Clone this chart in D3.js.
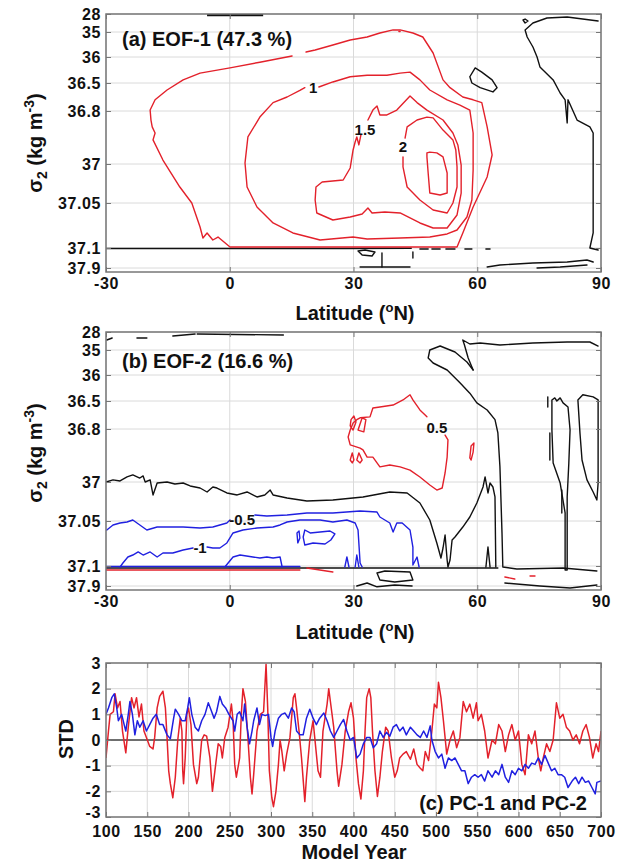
<!DOCTYPE html>
<html>
<head>
<meta charset="utf-8">
<script src="https://cdn.jsdelivr.net/npm/d3@7"></script>
<style>
  body { margin: 0; background: #fff; }
  text { font-family: "Liberation Sans", Arial, Helvetica, sans-serif; font-weight: bold; fill: #111; }
</style>
</head>
<body>
<svg id="chart"></svg>
<script>
// ---- data -------------------------------------------------------------
const latTicks = [-30, 0, 30, 60, 90]
const sigTicks = [28, 35, 36, 36.5, 36.8, 37, 37.05, 37.1, 37.9]
const sigBreaks = [28, 35, 36, 36.5, 36.8, 37, 37.05, 37.1, 37.9, 38]
const stdTicks = [3, 2, 1, 0, -1, -2, -3]
const yearTicks = [100, 150, 200, 250, 300, 350, 400, 450, 500, 550, 600, 650, 700]

// EOF-1 red contours [lat, sigma2]
const eof1_05 = [[18.5,35.8],[20.7,35.72],[25.0,35.52],[29.2,35.32],[33.3,35.2],[36.4,35.04],[39.6,34.2],[41.3,34.2],[44.4,35.04],[46.8,35.2],[49.3,35.84],[51.7,36.44],[53.4,36.55],[56.5,36.65],[59.0,36.68],[61.1,36.71],[62.4,36.86],[63.6,36.966],[62.4,37.0166],[59.0,37.0544],[56.5,37.0833],[55.1,37.0989],[0.5,37.0989],[0.06,37.0989],[-2.85,37.0878],[-4.1,37.0911],[-5.5,37.0833],[-6.5,37.0889],[-7.2,37.0767],[-9.2,37.05],[-12.1,37.0295],[-16.2,36.985],[-18.6,36.909],[-18.1,36.883],[-18.8,36.86],[-19.1,36.834],[-19.3,36.79],[-18.1,36.68],[-15.2,36.575],[-11.3,36.44],[-7.2,36.31],[0.06,36.21],[7.3,36.1],[15.1,35.96]]
const eof1_10 = [[21.6,36.543],[25.0,36.48],[29.2,36.38],[33.3,36.35],[38.1,36.35],[41.3,36.31],[43.7,36.29],[46.1,36.44],[48.5,36.575],[52.7,36.68],[55.8,36.736],[58.2,36.79],[59.0,36.883],[59.0,37.0077],[58.7,37.0462],[57.5,37.0656],[55.1,37.08],[52.7,37.0844],[48.5,37.0878],[41.3,37.0889],[33.3,37.09],[29.9,37.0878],[21.9,37.0911],[15.3,37.0833],[10.5,37.0722],[6.6,37.0544],[4.2,37.0295],[3.7,36.996],[4.4,36.898],[7.3,36.823],[10.5,36.71],[13.9,36.65],[17.0,36.58],[18.2,36.55]]
const eof1_15 = [[33.5,36.834],[34.7,36.79],[35.7,36.747],[36.4,36.815],[38.1,36.815],[40.5,36.79],[43.7,36.64],[45.4,36.71],[47.8,36.79],[51.7,36.834],[54.1,36.883],[55.3,36.928],[56.1,37.0013],[56.1,37.0372],[55.1,37.0633],[52.7,37.0778],[49.3,37.0778],[46.1,37.0722],[41.3,37.0611],[37.6,37.06],[34.5,37.0611],[33.5,37.0556],[32.1,37.0622],[29.2,37.0656],[25.0,37.0689],[21.1,37.0611],[20.7,37.0462],[20.9,37.0295],[22.4,37.0231],[27.5,37.0205],[29.2,37.0051],[29.9,36.947],[30.4,36.917],[30.8,36.898],[31.3,36.928],[31.8,36.89]]
const eof1_20 = [[42.5,36.902],[43.0,36.86],[45.4,36.834],[47.8,36.823],[49.3,36.826],[51.7,36.872],[54.1,36.909],[54.8,36.947],[55.1,37.0038],[55.1,37.0295],[54.1,37.05],[52.7,37.0611],[49.3,37.0578],[46.1,37.0462],[43.0,37.0295],[42.0,37.0038],[42.0,36.973]]
const eof1_25 = [[47.8,36.958],[48.5,36.955],[50.2,36.958],[51.7,36.973],[52.7,37.0115],[52.7,37.0372],[51.0,37.0397],[48.5,37.0372],[48.1,37.0115],[47.8,36.973],[47.8,36.958]]
const eof1Dots = [[[41.0,34.8],[41.3,34.8]]]
const eof1Labels = [[20.2,36.55,'1'],[32.8,36.872,'1.5'],[42.0,36.936,'2']]

// EOF-1 zero contours (black)
const eof1Zero = [
  [[89.3,30.72],[81.8,29.17],[76.9,29.56],[73.5,31.5],[71.6,34.2],[72.1,35.2],[73.5,35.6],[74.5,36.0],[75.2,36.19],[78.4,36.44],[80.1,36.607],[81.3,36.68],[81.8,36.845],[82.0,36.68],[84.2,36.834],[87.3,36.86],[88.1,36.883],[88.1,37.0462],[88.1,37.0833],[87.3,37.1],[89.3,37.18]],
  [[58.2,36.38],[59.5,36.21],[61.1,36.29],[63.6,36.44],[64.8,36.55],[63.8,36.596],[60.7,36.55],[58.7,36.5],[58.2,36.38]],
  [[71.1,30.33],[71.6,29.95],[72.3,30.72],[71.6,31.5],[71.1,30.33]],
  [[-30,37.12],[28,37.12],[44,37.11]],
  [[46.1,37.14],[48.1,37.14]],[[49.0,37.14],[51.0,37.14]],[[52.4,37.14],[54.6,37.14]],[[57.0,37.14],[58.7,37.14]],[[62.1,37.14],[63.1,37.14]],
  [[31.1,37.22],[32.8,37.18],[35.2,37.26],[34.5,37.42],[32.1,37.38],[31.1,37.22]],
  [[31.6,37.86],[43.7,37.86]],[[36.9,37.30],[36.9,37.86]],[[44.4,37.26],[44.4,37.5]],
  [[62.4,37.86],[65.5,37.78],[73.5,37.7],[81.8,37.66],[86.6,37.58],[88.1,37.66]],
  [[74.5,37.9],[80.1,37.86],[86.6,37.78]]
]
const eof1Top = [[-5.5,28.39],[8.1,28.39]]

// EOF-2 contours
const eof2_05 = [[47.8,36.67],[46.1,36.596],[44.4,36.48],[43.7,36.38],[42.0,36.48],[39.6,36.543],[36.4,36.564],[34.7,36.575],[34.0,36.67],[31.6,36.68],[30.8,36.70],[29.9,36.736],[29.2,36.804],[28.7,36.83],[29.2,36.86],[31.6,36.872],[32.3,36.879],[33.3,36.906],[34.7,36.906],[35.7,36.928],[36.4,36.943],[38.8,36.936],[41.3,36.943],[43.7,36.955],[46.1,36.981],[48.5,37.0038],[50.2,37.0103],[51.5,37.0077],[52.2,36.966],[52.7,36.906],[52.9,36.841],[52.2,36.823]]
const eof2Pos = [
  [[29.4,36.70],[30.1,36.66],[30.6,36.725],[29.9,36.804],[29.2,36.767],[29.4,36.70]],
  [[31.1,36.804],[32.1,36.68],[33.0,36.70],[32.5,36.811],[31.1,36.804]],
  [[29.2,36.917],[29.7,36.89],[30.1,36.917],[29.7,36.928],[29.2,36.917]],
  [[30.8,36.917],[31.3,36.89],[32.1,36.917],[31.6,36.928],[30.8,36.917]],
  [[58.2,36.909],[58.5,36.864],[59.2,36.853],[59.0,36.887],[58.5,36.917],[58.2,36.909]],
  [[-30,37.26],[17,37.26]],
  [[18.7,37.18],[25.0,37.34]],
  [[66.7,37.54],[69.1,37.62]],[[72.8,37.5],[74.0,37.5]]
]
const eof2_m05 = [
  [[-29.8,37.06],[-28.3,37.0544],[-26.6,37.0522],[-24.9,37.0511],[-23.5,37.0487],[-21.8,37.0544],[-20.1,37.06],[-17.6,37.0567],[-15.2,37.0567],[-11.3,37.0567],[-7.2,37.0578],[-4.1,37.0567],[-0.7,37.0522],[0.06,37.0487]],
  [[6.1,37.0423],[9.0,37.0436],[13.9,37.0423],[18.7,37.0397],[25.0,37.0397],[31.6,37.0372],[35.7,37.0385],[36.4,37.0449],[38.8,37.0522],[39.6,37.0622],[40.5,37.0522],[41.8,37.0522],[43.7,37.06],[44.4,37.0789],[44.4,37.0989],[45.4,37.09],[45.9,37.14]]
]
const eof2_m10 = [
  [[-26.6,37.14],[-25.9,37.0967],[-24.7,37.09],[-23.5,37.0878],[-22.2,37.0844],[-21.0,37.0878],[-19.3,37.0844],[-17.6,37.09],[-16.2,37.0856],[-13.8,37.0856],[-11.3,37.0822],[-8.9,37.08]],
  [[-5.5,37.0789],[-4.1,37.08],[-2.4,37.08],[-0.7,37.0744],[0.8,37.0633],[3.2,37.06],[6.6,37.0578],[10.5,37.0567],[12.2,37.0544],[13.9,37.0511],[17.0,37.0487],[21.9,37.0487],[25.0,37.0511],[28.4,37.0487],[30.4,37.0522],[31.1,37.06],[31.6,37.0967],[32.1,37.14]],
  [[17.8,37.0678],[18.2,37.06],[19.5,37.0633],[24.3,37.0611],[25.5,37.0644],[24.5,37.0711],[23.1,37.0756],[20.2,37.0744],[18.2,37.0767],[17.8,37.0678]],
  [[16.3,37.0633],[16.8,37.0611],[17.0,37.0689],[16.5,37.0744],[16.3,37.0633]],
  [[-1.2,37.14],[0.8,37.09],[2.5,37.0878],[5.6,37.09],[7.3,37.0911],[9.0,37.09],[10.5,37.0911],[12.2,37.09],[12.7,37.14]],
  [[27.9,37.14],[28.4,37.09],[28.9,37.14]],[[30.4,37.14],[30.8,37.0878],[31.3,37.14]],
  [[-30,37.12],[17,37.12]]
]
const eof2Labels = [[50.2,36.78,'0.5'],[3.0,37.0487,'-0.5'],[-7.2,37.08,'-1']]
const eof2Zero = [
  [[-30,37.0],[-28.3,36.992],[-26.6,36.996],[-24.9,36.981],[-23.5,36.973],[-21.8,36.985],[-21.0,36.977],[-20.5,37.0],[-19.3,36.992],[-18.6,37.0166],[-17.6,37.0013],[-15.2,37.0],[-13.3,37.0026],[-11.3,37.0013],[-9.6,37.0051],[-7.2,37.0077],[-5.5,37.0128],[-4.1,37.0064],[-3.1,37.0077],[-0.7,37.0141],[1.8,37.0166],[4.2,37.0128],[6.6,37.0192],[8.5,37.0166],[9.8,37.0103],[10.5,37.0166],[13.9,37.0205],[18.7,37.0244],[25.0,37.0231],[32.3,37.0192],[38.8,37.0128],[43.0,37.0141],[46.1,37.0269],[48.5,37.0487],[50.2,37.0744],[51.2,37.0911],[51.7,37.08],[52.2,37.0656],[52.7,37.0933],[52.9,37.14],[53.4,37.0933],[53.9,37.0711],[54.6,37.0678],[56.5,37.0567],[58.2,37.0449],[59.9,37.0269],[61.4,37.0064],[61.9,36.981],[62.6,37.0141],[63.1,37.0013],[63.8,37.0064],[64.3,37.0192],[64.5,37.14]],
  [[62.1,37.14],[62.6,37.0789],[63.1,37.14]],
  [[59.0,35.8],[57.5,35.48],[54.6,35.08],[51.0,33.45],[48.5,35.0],[48.1,35.32],[49.3,35.52],[52.7,35.8],[55.8,36.15],[58.2,36.35],[59.9,36.52],[62.4,36.596],[64.3,36.70],[65.0,36.815],[65.5,36.943],[66.0,37.0633],[66.2,37.14],[69.6,37.22],[80.8,37.18],[89.0,37.30]],
  [[59.0,35.8],[57.8,35.32],[56.9,33.06],[56.5,31.11],[58.2,32.67],[60.7,32.28],[65.5,33.06],[73.5,32.28],[81.8,31.89],[87.3,31.89],[89.3,33.45]],
  [[78.1,36.48],[78.8,36.44],[79.3,36.5],[80.1,36.44],[80.8,36.52],[82.0,36.564],[82.5,36.804],[82.2,36.928],[81.8,37.0192],[81.8,37.26],[81.3,37.26],[81.3,37.0397],[80.1,37.0013],[78.4,36.928],[78.1,36.804],[78.1,36.48]],
  [[84.4,36.48],[85.6,36.38],[88.1,36.42],[89.3,36.48],[89.3,37.0013],[89.0,37.0231],[88.1,37.0128],[86.6,36.992],[85.4,36.917],[84.9,36.815],[84.4,36.48]],
  [[77.1,36.42],[77.1,36.564]],[[77.6,36.815],[77.6,36.917]],[[80.5,37.0103],[80.5,37.0397]],
  [[-30,37.18],[65,37.18]],
  [[35.7,37.38],[37.6,37.30],[43.7,37.34],[44.4,37.66],[40.0,37.74],[36.4,37.66],[35.7,37.38]],
  [[30.8,37.9],[33.3,37.78],[35.7,37.92],[40.0,37.86],[44.2,37.9]],
  [[66.7,37.78],[75.2,37.9],[82.5,37.95],[89.0,37.86]],
  [[-29.8,31.11],[-28.5,30.33]],[[-22.5,30.33],[-20.1,30.33]],[[-13.8,29.56],[-8.4,28.78]],[[-7.9,28.78],[13.0,29.17]]
]

// PCs
const pc1Year = [100,103,105,109,111,114,117,120,124,127,131,134,137,140,143,146,149,153,157,159,162,165,169,172,174,176,178,181,184,187,190,192,193,194,196,198,200,203,206,210,212,216,219,222,226,229,232,236,239,241,244,248,252,254,256,258,262,264,266,269,272,275,277,279,283,287,291,294,296,298,301,303,306,309,311,313,316,319,323,327,329,331,334,337,341,343,347,351,353,357,360,363,368,370,372,376,380,382,386,390,394,397,400,403,406,409,412,414,416,419,421,423,426,429,432,435,439,442,446,450,453,456,460,464,469,473,477,481,484,487,491,495,498,501,503,506,509,513,517,521,525,529,533,537,541,545,549,551,555,559,563,568,572,576,580,584,588,592,596,600,604,608,612,616,620,624,627,630,634,638,642,646,650,654,658,662,666,670,674,678,682,686,690,694,697,700]
const pc1 = [-0.7,0.35,1.0,1.1,1.8,1.25,1.5,0.35,-0.5,0.5,1.65,1.25,1.65,0.9,1.4,0.35,0.1,-0.25,-0.35,0.1,1.25,1.7,1.9,1.25,0.1,-1.2,-1.7,-2.25,-1.45,0,0.85,0.35,-1.2,-1.7,-0.7,1.0,1.25,0.6,-0.95,-1.7,-1.45,0,0.2,0.15,-0.7,-2.0,-1.2,-0.15,-0.25,-0.7,0.1,0.5,1.4,0.75,-0.95,-1.45,-0.7,1.0,2.0,1.5,0.1,-1.45,-2.1,-1.35,0.35,1.0,1.1,2.95,1.25,-1.2,-2.25,-2.6,-2.0,-0.95,0,-0.4,-1.2,-0.55,0.1,1.65,1.8,1.25,0.35,-0.7,-2.4,-1.45,0,0.75,0.1,-1.2,-1.45,0.35,1.4,2.0,1.5,0.5,-1.2,-1.8,-0.95,0.35,1.1,1.45,0.85,-0.7,-1.7,-2.3,-1.2,0.35,1.65,2.0,1.65,0.35,-1.2,-2.2,-1.45,-0.45,0.5,0.35,-0.7,-1.45,-1.2,-0.7,-0.55,-0.45,-0.75,-0.35,-0.95,-1.1,-1.2,-0.45,-0.8,0.35,1.4,1.25,2.25,1.65,0.75,-0.55,0,0.35,-0.3,0.1,1.5,1.1,1.4,0.85,1.45,0.75,1.0,0.35,-0.7,0,-0.15,0.6,0.35,-0.45,0.2,0.6,0,0.35,-0.95,-1.35,0.2,-0.15,0.35,-0.7,-1.2,-0.7,-0.15,-0.45,0,1.45,0.85,1.0,0.5,0.35,0,0.2,-0.15,0.35,0.6,0.1,-0.7,-0.15,-0.45,0.35]
const pc2Year = [100,103,107,110,113,115,119,122,124,127,129,132,135,138,141,145,149,153,157,161,165,169,174,178,182,184,188,192,196,199,201,204,208,212,216,220,224,227,231,234,238,241,245,249,254,256,259,262,266,268,271,274,277,279,283,286,289,293,297,300,302,305,309,313,317,321,325,328,331,335,339,343,347,351,355,359,364,368,372,376,380,384,388,392,396,400,404,408,412,416,420,424,428,432,436,440,444,448,452,456,460,464,469,473,477,481,485,489,493,495,499,503,507,511,515,519,523,527,531,535,539,543,547,551,555,559,563,568,572,576,580,584,588,592,596,600,604,608,612,616,620,624,628,632,636,640,644,648,652,656,660,665,669,673,677,681,685,689,693,695,700]
const pc2 = [1.0,1.25,1.65,1.8,1.25,0.75,1.0,0.6,0.35,1.0,1.5,1.0,0.2,0.75,0.5,0.75,0.35,0.6,0.85,1.0,0.6,0.6,0.2,0.05,0.85,1.2,1.0,0.75,0.75,1.25,1.65,1.0,0.5,0.35,0.75,1.0,1.45,1.2,0.85,1.1,1.7,1.4,1.25,1.0,0.75,0.35,1.0,1.1,0.75,1.4,0.5,-0.15,0.35,0.75,1.25,0.6,1.0,0.95,1.0,0.1,-0.25,0.35,0.85,1.0,1.05,0.85,1.25,1.1,0.35,0.2,0.2,0.85,1.2,0.85,0.6,0.85,1.05,0.75,0.35,0.1,0.35,0.6,0.8,0.35,0,0.1,-0.7,-0.55,-0.15,0.1,0.1,-0.3,-0.15,0.35,0.1,0.3,0.15,0.5,0.6,0.35,0.5,0.2,0.5,0.35,0.2,0.1,0.35,0.1,0.55,0,-0.45,-0.7,-0.55,-1.1,-0.7,-0.8,-0.7,-0.95,-1.2,-1.2,-1.7,-1.45,-1.35,-1.45,-1.35,-1.6,-1.2,-1.45,-1.2,-1.35,-0.95,-1.45,-1.65,-1.2,-1.35,-1.1,-1.2,-0.95,-1.1,-0.9,-0.95,-0.7,-0.95,-0.6,-0.9,-1.2,-1.1,-1.35,-1.35,-1.45,-1.85,-1.6,-1.45,-1.7,-1.45,-1.65,-1.6,-1.85,-2.1,-1.65,-1.6]

// ---- layout -----------------------------------------------------------
const width = 626, height = 863
const left = 106, right = 601
const panelA = {top: 14, bottom: 272}
const panelB = {top: 332, bottom: 590}
const panelC = {top: 663, bottom: 817}
const sigFrac = [0, 18, 43, 69, 97, 150, 189, 234, 254, 258].map(v => v / 258)
const red = '#e3212b', blue = '#2020e0', ink = '#111'

const svg = d3.select('#chart').attr('width', width).attr('height', height)
svg.append('rect').attr('width', width).attr('height', height).attr('fill', '#fff')

const xLat = d3.scaleLinear().domain([-30, 90]).range([left, right])

const frame = (g, x, y, xt, yt, id, top, bottom) => {
  g.append('clipPath').attr('id', id).append('rect')
    .attr('x', left).attr('y', top).attr('width', right - left).attr('height', bottom - top)
  const grid = g.append('g').attr('stroke', '#dadada').attr('stroke-width', 1)
  grid.selectAll('.gx').data(xt).enter().append('line')
    .attr('x1', d => x(d)).attr('x2', d => x(d)).attr('y1', top).attr('y2', bottom)
  grid.selectAll('.gy').data(yt).enter().append('line')
    .attr('x1', left).attr('x2', right).attr('y1', d => y(d)).attr('y2', d => y(d))
  return g.append('g').attr('clip-path', `url(#${id})`)
}

const axes = (g, x, y, xt, yt, top, bottom, xpad) => {
  const style = a => {
    a.select('.domain').remove()
    a.selectAll('line').attr('stroke', '#777')
    a.selectAll('text').style('font-size', '16px').style('letter-spacing', '0.6px').attr('fill', ink)
  }
  const yAxis = g.append('g').attr('transform', `translate(${left},0)`)
    .call(d3.axisLeft(y).tickValues(yt).tickSizeInner(-5).tickSizeOuter(0).tickPadding(5).tickFormat(d => String(d)))
    .call(style)
  g.append('g').attr('transform', `translate(${right},0)`)
    .call(d3.axisRight(y).tickValues(yt).tickSizeInner(-5).tickSizeOuter(0).tickFormat(''))
    .call(style)
  g.append('g').attr('transform', `translate(0,${bottom})`)
    .call(d3.axisBottom(x).tickValues(xt).tickSizeInner(-5).tickSizeOuter(0).tickPadding(xpad).tickFormat(d => String(d)))
    .call(style)
  g.append('g').attr('transform', `translate(0,${top})`)
    .call(d3.axisTop(x).tickValues(xt).tickSizeInner(-5).tickSizeOuter(0).tickFormat(''))
    .call(style)
  g.append('rect').attr('x', left).attr('y', top).attr('width', right - left).attr('height', bottom - top)
    .attr('fill', 'none').attr('stroke', '#777').attr('stroke-width', 1.5)
  return yAxis
}

const sigmaLabel = (g, cy) => {
  const t = g.append('text').attr('transform', `translate(42,${cy}) rotate(-90)`)
    .attr('text-anchor', 'middle').style('font-size', '20px')
  t.append('tspan').text('σ')
  t.append('tspan').attr('dy', 5).style('font-size', '14px').text('2')
  t.append('tspan').attr('dy', -5).text(' (kg m')
  t.append('tspan').attr('dy', -8).style('font-size', '14px').text('-3')
  t.append('tspan').attr('dy', 8).text(')')
}

const latLabel = (g, yb) => {
  const t = g.append('text').attr('x', 355).attr('y', yb).attr('text-anchor', 'middle').style('font-size', '20px')
  t.append('tspan').text('Latitude (')
  t.append('tspan').attr('dy', -8).style('font-size', '13px').text('o')
  t.append('tspan').attr('dy', 8).text('N)')
}

const contourPanel = (p, id, title, titleY, reds, blues, blacks, labels, thick) => {
  const y = d3.scaleLinear().domain(sigBreaks).range(sigFrac.map(f => p.top + f * (p.bottom - p.top)))
  const line = d3.line().x(d => xLat(d[0])).y(d => y(d[1]))
  const g = svg.append('g')
  const body = frame(g, xLat, y, latTicks, sigTicks, id, p.top, p.bottom)
  const draw = (sets, color) => body.append('g').selectAll('path').data(sets).enter().append('path')
    .attr('d', line).attr('fill', 'none').attr('stroke', color).attr('stroke-width', 1.4)
    .attr('stroke-linejoin', 'round').attr('stroke-linecap', 'round')
  draw(blacks, ink)
  draw(reds, red)
  draw(blues, blue)
  if (thick) body.append('path').datum(thick).attr('d', line).attr('stroke', ink).attr('stroke-width', 2.5)
  g.selectAll('.clab').data(labels).enter().append('text')
    .attr('x', d => xLat(d[0])).attr('y', d => y(d[1])).attr('dy', '0.36em')
    .attr('text-anchor', 'middle').style('font-size', '15px').text(d => d[2])
  axes(g, xLat, y, latTicks, sigTicks, p.top, p.bottom, 6)
  g.append('text').attr('x', 122).attr('y', titleY).style('font-size', '20px').text(title)
}

contourPanel(panelA, 'clipA', '(a) EOF-1 (47.3 %)', 46,
  [eof1_05, eof1_10, eof1_15, eof1_20, eof1_25, ...eof1Dots], [], eof1Zero, eof1Labels, eof1Top)
sigmaLabel(svg, 143)
latLabel(svg, 320)

contourPanel(panelB, 'clipB', '(b) EOF-2 (16.6 %)', 368,
  [eof2_05, ...eof2Pos], [...eof2_m05, ...eof2_m10], eof2Zero, eof2Labels, null)
sigmaLabel(svg, 453)
latLabel(svg, 639)

// ---- panel c ----------------------------------------------------------
const xYear = d3.scaleLinear().domain([100, 700]).range([left, right])
const yStd = d3.scaleLinear().domain([-3, 3]).range([panelC.bottom, panelC.top])
const gc = svg.append('g')
const bodyC = frame(gc, xYear, yStd, yearTicks, stdTicks, 'clipC', panelC.top, panelC.bottom)
bodyC.append('line').attr('x1', left).attr('x2', right).attr('y1', yStd(0)).attr('y2', yStd(0))
  .attr('stroke', '#444').attr('stroke-width', 1.3)
const pcLine = d3.line().x(d => xYear(d[0])).y(d => yStd(d[1]))
bodyC.append('path').datum(d3.zip(pc1Year, pc1)).attr('d', pcLine)
  .attr('fill', 'none').attr('stroke', red).attr('stroke-width', 1.5).attr('stroke-linejoin', 'round')
bodyC.append('path').datum(d3.zip(pc2Year, pc2)).attr('d', pcLine)
  .attr('fill', 'none').attr('stroke', blue).attr('stroke-width', 1.5).attr('stroke-linejoin', 'round')
const stdAxis = axes(gc, xYear, yStd, yearTicks, stdTicks, panelC.top, panelC.bottom, 9)
// lift the lowest label a little so it clears the year labels below it
stdAxis.selectAll('.tick').filter(d => d === -3).select('text').attr('dy', '0.05em')
gc.append('text').attr('x', 587).attr('y', 810).attr('text-anchor', 'end').style('font-size', '20px').text('(c) PC-1 and PC-2')
gc.append('text').attr('transform', `translate(73,739) rotate(-90)`).attr('text-anchor', 'middle')
  .style('font-size', '20px').text('STD')
gc.append('text').attr('x', 354).attr('y', 859).attr('text-anchor', 'middle').style('font-size', '20px').text('Model Year')
</script>
</body>
</html>
